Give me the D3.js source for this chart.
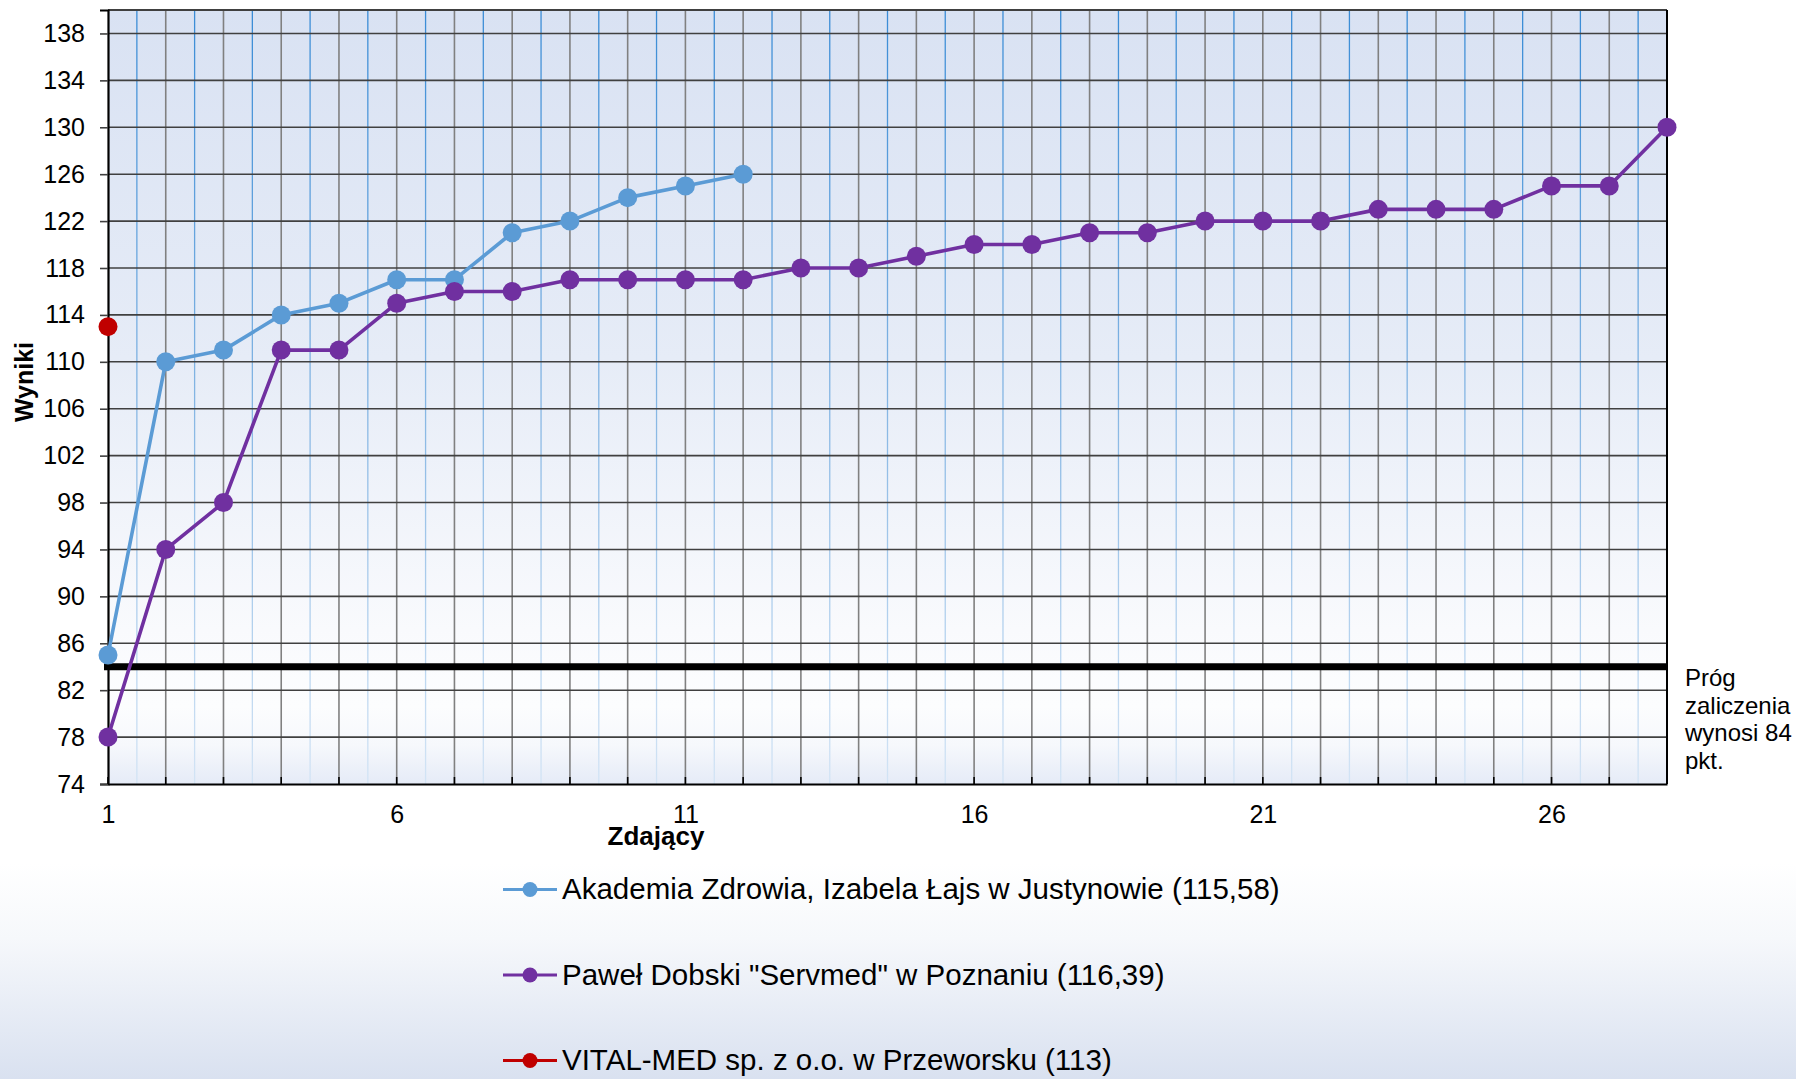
<!DOCTYPE html>
<html>
<head>
<meta charset="utf-8">
<script src="https://cdn.jsdelivr.net/npm/d3@7"></script>
<style>
html,body{margin:0;padding:0;background:#fff;}
svg{display:block;font-family:"Liberation Sans",Arial,sans-serif;}
</style>
</head>
<body>
<svg id="chart" width="1796" height="1079"></svg>
<script>
// ---- data ----
const seriesNames = [
  'Akademia Zdrowia, Izabela Łajs w Justynowie (115,58)',
  'Paweł Dobski "Servmed" w Poznaniu (116,39)',
  'VITAL-MED sp. z o.o. w Przeworsku (113)'
];
const seriesColors = ['#5b9bd5', '#7030a0', '#c00000'];
const akademiaValues = [85, 110, 111, 114, 115, 117, 117, 121, 122, 124, 125, 126];
const servmedValues = [78, 94, 98, 111, 111, 115, 116, 116, 117, 117, 117, 117, 118, 118, 119, 120, 120, 121, 121, 122, 122, 122, 123, 123, 123, 125, 125, 130];
const vitalValues = [113];
const yTicks = [74, 78, 82, 86, 90, 94, 98, 102, 106, 110, 114, 118, 122, 126, 130, 134, 138];
const xTicks = [1, 6, 11, 16, 21, 26];
const threshold = 84;
const thresholdLabel = ['Próg', 'zaliczenia', 'wynosi 84', 'pkt.'];
const xTitle = 'Zdający';
const yTitle = 'Wyniki';

const allSeries = [akademiaValues, servmedValues, vitalValues];

// ---- layout ----
const svg = d3.select('#chart');
const W = 1796, H = 1079;
const pL = 108, pR = 1667, pT = 10, pB = 784;
const x = d3.scaleLinear().domain([1, 28]).range([pL, pR]);
const y = d3.scaleLinear().domain([74, 140]).range([pB, pT]);

const defs = svg.append('defs');
const pageGrad = defs.append('linearGradient').attr('id', 'pageGrad')
  .attr('gradientUnits', 'userSpaceOnUse').attr('x1', 0).attr('y1', 0).attr('x2', 0).attr('y2', H);
[[0, '#ffffff'], [0.8, '#ffffff'], [0.87, '#f6f8fb'], [1, '#d9e1f0']].forEach(s =>
  pageGrad.append('stop').attr('offset', s[0]).attr('stop-color', s[1]));

const plotGrad = defs.append('linearGradient').attr('id', 'plotGrad')
  .attr('gradientUnits', 'userSpaceOnUse').attr('x1', 0).attr('y1', pT).attr('x2', 0).attr('y2', pB);
[[0, '#d9e2f3'], [0.45, '#e6ecf7'], [0.8, '#f9fafd'], [0.9, '#fcfdfe'], [0.95, '#f6f8fc'], [1, '#e5ebf7']].forEach(s =>
  plotGrad.append('stop').attr('offset', s[0]).attr('stop-color', s[1]));

const minorGrad = defs.append('linearGradient').attr('id', 'minorGrad')
  .attr('gradientUnits', 'userSpaceOnUse').attr('x1', 0).attr('y1', pT).attr('x2', 0).attr('y2', pB);
[[0, '#3a8cd6'], [0.5, '#84b5e3'], [1, '#d3e4f5']].forEach(s =>
  minorGrad.append('stop').attr('offset', s[0]).attr('stop-color', s[1]));

svg.append('rect').attr('width', W).attr('height', H).attr('fill', 'url(#pageGrad)');
svg.append('rect').attr('x', pL).attr('y', pT).attr('width', pR - pL).attr('height', pB - pT)
  .attr('fill', 'url(#plotGrad)');

// minor vertical gridlines (half units)
const halfUnits = d3.range(1.5, 28, 1);
svg.append('g').selectAll('line').data(halfUnits).join('line')
  .attr('x1', d => x(d)).attr('x2', d => x(d)).attr('y1', pT).attr('y2', pB)
  .attr('stroke', 'url(#minorGrad)').attr('stroke-width', 1.3);

// major vertical gridlines
const units = d3.range(2, 28, 1);
svg.append('g').selectAll('line').data(units).join('line')
  .attr('x1', d => x(d)).attr('x2', d => x(d)).attr('y1', pT).attr('y2', pB)
  .attr('stroke', '#808080').attr('stroke-width', 1.6);

// horizontal gridlines
svg.append('g').selectAll('line').data(yTicks.slice(1)).join('line')
  .attr('x1', pL).attr('x2', pR).attr('y1', d => y(d)).attr('y2', d => y(d))
  .attr('stroke', '#404040').attr('stroke-width', 1.6);

// frame
svg.append('line').attr('x1', pL).attr('x2', pR).attr('y1', pT).attr('y2', pT)
  .attr('stroke', '#404040').attr('stroke-width', 2);
svg.append('line').attr('x1', pR).attr('x2', pR).attr('y1', pT).attr('y2', pB)
  .attr('stroke', '#000').attr('stroke-width', 2);

// y axis
const yAxis = svg.append('g').attr('transform', `translate(${pL},0)`)
  .call(d3.axisLeft(y).tickValues(yTicks).tickSize(8).tickPadding(15).tickFormat(d3.format('d')));
yAxis.select('.domain').attr('stroke', '#000').attr('stroke-width', 2.2);
yAxis.selectAll('.tick line').attr('stroke', '#404040').attr('stroke-width', 1.6);
yAxis.selectAll('.tick text').attr('font-size', 25).attr('fill', '#000')
  .attr('font-family', '"Liberation Sans",Arial,sans-serif');

// x axis
const xAxis = svg.append('g').attr('transform', `translate(0,${pB})`)
  .call(d3.axisBottom(x).tickValues(xTicks).tickSize(0).tickPadding(21).tickFormat(d3.format('d')));
xAxis.select('.domain').attr('stroke', '#000').attr('stroke-width', 2.2);
xAxis.selectAll('.tick text').attr('font-size', 25).attr('fill', '#000')
  .attr('font-family', '"Liberation Sans",Arial,sans-serif');
// inner tick marks at every integer
svg.append('g').selectAll('line').data(d3.range(1, 29)).join('line')
  .attr('x1', d => x(d)).attr('x2', d => x(d)).attr('y1', pB).attr('y2', pB - 7)
  .attr('stroke', '#000').attr('stroke-width', 1.6);

// threshold line
svg.append('line').attr('x1', pL - 4).attr('x2', pR).attr('y1', y(threshold)).attr('y2', y(threshold))
  .attr('stroke', '#000').attr('stroke-width', 7);
svg.append('text').attr('x', 1685).attr('y', 686).attr('font-size', 24).attr('fill', '#000')
  .selectAll('tspan').data(thresholdLabel).join('tspan')
  .attr('x', 1685).attr('dy', (d, i) => i === 0 ? 0 : 27.5).text(d => d);

// series
const line = d3.line().x((d, i) => x(i + 1)).y(d => y(d));
allSeries.forEach((vals, si) => {
  const g = svg.append('g');
  if (vals.length > 1) {
    g.append('path').datum(vals).attr('d', line).attr('fill', 'none')
      .attr('stroke', seriesColors[si]).attr('stroke-width', 3.6).attr('stroke-linejoin', 'round');
  }
  g.selectAll('circle').data(vals).join('circle')
    .attr('cx', (d, i) => x(i + 1)).attr('cy', d => y(d)).attr('r', 9.5)
    .attr('fill', seriesColors[si]);
});

// axis titles
svg.append('text').attr('transform', 'translate(33,382) rotate(-90)').attr('text-anchor', 'middle')
  .attr('font-size', 25).attr('font-weight', 'bold').text(yTitle);
svg.append('text').attr('x', 656).attr('y', 845).attr('text-anchor', 'middle')
  .attr('font-size', 26).attr('font-weight', 'bold').text(xTitle);

// legend
const legY = [889.5, 975, 1060.5];
const leg = svg.append('g').selectAll('g').data(seriesNames).join('g')
  .attr('transform', (d, i) => `translate(0,${legY[i]})`);
leg.append('line').attr('x1', 503).attr('x2', 557).attr('y1', 0).attr('y2', 0)
  .attr('stroke', (d, i) => seriesColors[i]).attr('stroke-width', 3.2);
leg.append('circle').attr('cx', 530).attr('cy', 0).attr('r', 7.5)
  .attr('fill', (d, i) => seriesColors[i]);
leg.append('text').attr('x', 562).attr('y', 9.5).attr('font-size', 29.5).attr('fill', '#000').text(d => d);
</script>
</body>
</html>
